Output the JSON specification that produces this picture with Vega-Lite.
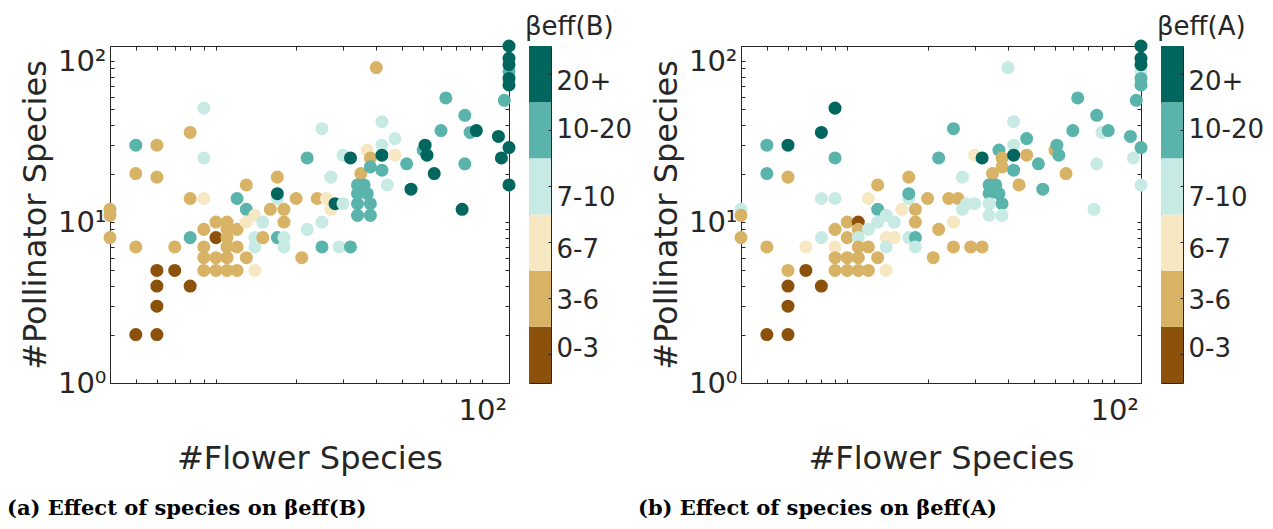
{
  "$schema": "https://vega.github.io/schema/vega-lite/v6.json",
  "background": "white",
  "padding": {"left": 6, "top": 13, "right": 0, "bottom": 0},
  "config": {
    "font": "DejaVu Sans",
    "view": {"stroke": "#262626", "strokeWidth": 1},
    "axis": {
      "grid": false, "domainColor": "#262626", "tickColor": "#262626",
      "labelColor": "#262626", "titleColor": "#262626",
      "labelFont": "DejaVu Sans", "titleFont": "DejaVu Sans",
      "labelFontSize": 29, "titleFontSize": 32, "titleFontWeight": "normal",
      "tickSize": -4, "labelOverlap": false, "labelFlush": false
    },
    "title": {"font": "DejaVu Serif", "fontWeight": "bold", "fontSize": 21, "color": "#000000"}
  },
  "datasets": {
    "pts": [
      {"f":4,"p":12,"b":"3-6","a":"7-10"},
      {"f":4,"p":11,"b":"3-6","a":"3-6"},
      {"f":4,"p":8,"b":"3-6","a":"3-6"},
      {"f":5,"p":30,"b":"10-20","a":"10-20"},
      {"f":6,"p":30,"b":"3-6","a":"20+"},
      {"f":5,"p":20,"b":"3-6","a":"10-20"},
      {"f":6,"p":19,"b":"3-6","a":"3-6"},
      {"f":8,"p":36,"b":"3-6","a":"20+"},
      {"f":9,"p":51,"b":"7-10","a":"20+"},
      {"f":9,"p":25,"b":"7-10","a":"10-20"},
      {"f":8,"p":14,"b":"3-6","a":"7-10"},
      {"f":9,"p":14,"b":"6-7","a":"7-10"},
      {"f":5,"p":7,"b":"3-6","a":"3-6"},
      {"f":7,"p":7,"b":"3-6","a":"6-7"},
      {"f":6,"p":5,"b":"0-3","a":"3-6"},
      {"f":7,"p":5,"b":"0-3","a":"0-3"},
      {"f":6,"p":4,"b":"0-3","a":"0-3"},
      {"f":8,"p":4,"b":"0-3","a":"0-3"},
      {"f":6,"p":3,"b":"0-3","a":"0-3"},
      {"f":5,"p":2,"b":"0-3","a":"0-3"},
      {"f":6,"p":2,"b":"0-3","a":"0-3"},
      {"f":8,"p":8,"b":"10-20","a":"7-10"},
      {"f":10,"p":8,"b":"0-3","a":"3-6"},
      {"f":9,"p":9,"b":"3-6","a":"3-6"},
      {"f":10,"p":10,"b":"3-6","a":"3-6"},
      {"f":11,"p":10,"b":"3-6","a":"0-3"},
      {"f":11,"p":9,"b":"3-6","a":"3-6"},
      {"f":12,"p":9,"b":"3-6","a":"7-10"},
      {"f":11,"p":8,"b":"3-6","a":"7-10"},
      {"f":9,"p":7,"b":"3-6","a":"6-7"},
      {"f":11,"p":7,"b":"3-6","a":"3-6"},
      {"f":12,"p":7,"b":"3-6","a":"3-6"},
      {"f":9,"p":6,"b":"3-6","a":"3-6"},
      {"f":10,"p":6,"b":"3-6","a":"3-6"},
      {"f":11,"p":6,"b":"3-6","a":"3-6"},
      {"f":13,"p":6,"b":"3-6","a":"3-6"},
      {"f":9,"p":5,"b":"3-6","a":"3-6"},
      {"f":10,"p":5,"b":"3-6","a":"3-6"},
      {"f":11,"p":5,"b":"3-6","a":"3-6"},
      {"f":12,"p":5,"b":"3-6","a":"3-6"},
      {"f":14,"p":5,"b":"6-7","a":"6-7"},
      {"f":13,"p":17,"b":"3-6","a":"3-6"},
      {"f":12,"p":14,"b":"10-20","a":"6-7"},
      {"f":13,"p":12,"b":"10-20","a":"10-20"},
      {"f":14,"p":11,"b":"6-7","a":"7-10"},
      {"f":13,"p":10,"b":"6-7","a":"7-10"},
      {"f":15,"p":10,"b":"7-10","a":"7-10"},
      {"f":14,"p":8,"b":"7-10","a":"6-7"},
      {"f":14,"p":7,"b":"7-10","a":"7-10"},
      {"f":15,"p":8,"b":"3-6","a":"6-7"},
      {"f":17,"p":14,"b":"7-10","a":"7-10"},
      {"f":17,"p":15,"b":"20+","a":"10-20"},
      {"f":17,"p":19,"b":"3-6","a":"3-6"},
      {"f":16,"p":12,"b":"3-6","a":"6-7"},
      {"f":18,"p":12,"b":"3-6","a":"3-6"},
      {"f":18,"p":10,"b":"3-6","a":"3-6"},
      {"f":17,"p":8,"b":"10-20","a":"7-10"},
      {"f":18,"p":8,"b":"7-10","a":"10-20"},
      {"f":18,"p":7,"b":"7-10","a":"7-10"},
      {"f":20,"p":14,"b":"3-6","a":"3-6"},
      {"f":21,"p":6,"b":"3-6","a":"3-6"},
      {"f":22,"p":9,"b":"7-10","a":"3-6"},
      {"f":24,"p":14,"b":"3-6","a":"3-6"},
      {"f":26,"p":14,"b":"6-7","a":"3-6"},
      {"f":22,"p":25,"b":"10-20","a":"10-20"},
      {"f":25,"p":38,"b":"7-10","a":"10-20"},
      {"f":27,"p":19,"b":"7-10","a":"7-10"},
      {"f":27,"p":12,"b":"6-7","a":"7-10"},
      {"f":25,"p":10,"b":"7-10","a":"6-7"},
      {"f":25,"p":7,"b":"10-20","a":"3-6"},
      {"f":29,"p":7,"b":"7-10","a":"3-6"},
      {"f":32,"p":7,"b":"10-20","a":"3-6"},
      {"f":28,"p":13,"b":"20+","a":"7-10"},
      {"f":30,"p":13,"b":"7-10","a":"7-10"},
      {"f":30,"p":26,"b":"7-10","a":"6-7"},
      {"f":32,"p":25,"b":"20+","a":"20+"},
      {"f":35,"p":20,"b":"3-6","a":"3-6"},
      {"f":37,"p":28,"b":"6-7","a":"10-20"},
      {"f":38,"p":25,"b":"3-6","a":"3-6"},
      {"f":38,"p":22,"b":"10-20","a":"3-6"},
      {"f":34,"p":17,"b":"10-20","a":"10-20"},
      {"f":36,"p":17,"b":"10-20","a":"10-20"},
      {"f":34,"p":15,"b":"10-20","a":"10-20"},
      {"f":37,"p":15,"b":"10-20","a":"10-20"},
      {"f":34,"p":13,"b":"10-20","a":"7-10"},
      {"f":38,"p":13,"b":"10-20","a":"10-20"},
      {"f":34,"p":11,"b":"10-20","a":"7-10"},
      {"f":38,"p":11,"b":"10-20","a":"7-10"},
      {"f":40,"p":91,"b":"3-6","a":"7-10"},
      {"f":42,"p":42,"b":"7-10","a":"7-10"},
      {"f":42,"p":30,"b":"7-10","a":"7-10"},
      {"f":42,"p":26,"b":"20+","a":"20+"},
      {"f":42,"p":21,"b":"10-20","a":"10-20"},
      {"f":44,"p":17,"b":"7-10","a":"3-6"},
      {"f":47,"p":33,"b":"7-10","a":"10-20"},
      {"f":47,"p":26,"b":"6-7","a":"3-6"},
      {"f":52,"p":23,"b":"10-20","a":"10-20"},
      {"f":54,"p":16,"b":"20+","a":"10-20"},
      {"f":60,"p":28,"b":"10-20","a":"3-6"},
      {"f":61,"p":30,"b":"20+","a":"10-20"},
      {"f":62,"p":26,"b":"20+","a":"10-20"},
      {"f":66,"p":20,"b":"20+","a":"3-6"},
      {"f":70,"p":37,"b":"10-20","a":"10-20"},
      {"f":73,"p":59,"b":"10-20","a":"10-20"},
      {"f":86,"p":46,"b":"10-20","a":"10-20"},
      {"f":90,"p":36,"b":"10-20","a":"7-10"},
      {"f":95,"p":37,"b":"20+","a":"10-20"},
      {"f":86,"p":23,"b":"10-20","a":"7-10"},
      {"f":84,"p":12,"b":"20+","a":"7-10"},
      {"f":115,"p":34,"b":"20+","a":"10-20"},
      {"f":118,"p":25,"b":"20+","a":"7-10"},
      {"f":126,"p":29,"b":"20+","a":"10-20"},
      {"f":126,"p":17,"b":"20+","a":"7-10"},
      {"f":121,"p":57,"b":"10-20","a":"10-20"},
      {"f":126,"p":86,"b":"10-20","a":"7-10"},
      {"f":126,"p":78,"b":"20+","a":"10-20"},
      {"f":126,"p":71,"b":"20+","a":"10-20"},
      {"f":126,"p":95,"b":"20+","a":"20+"},
      {"f":126,"p":104,"b":"20+","a":"20+"},
      {"f":126,"p":124,"b":"20+","a":"20+"}
    ],
    "bins": [
      {"bin":"0-3"},{"bin":"3-6"},{"bin":"6-7"},{"bin":"7-10"},{"bin":"10-20"},{"bin":"20+"}
    ]
  },
  "spacing": 4,
  "hconcat": [
    {
      "title": {"text": "(a) Effect of species on βeff(B)", "orient": "bottom", "anchor": "start", "offset": 23, "dx": -12},
      "spacing": 7,
      "hconcat": [
        {
          "width": 399, "height": 337,
          "data": {"name": "pts"},
          "resolve": {"axis": {"x": "independent", "y": "independent"}},
          "layer": [
            {
              "mark": {"type": "circle", "size": 170, "opacity": 1},
              "encoding": {
                "x": {"field": "f", "type": "quantitative", "title": "#Flower Species",
                  "scale": {"type": "log", "domain": [4, 126], "nice": false},
                  "axis": {"values": [5,6,7,8,9,10,20,30,40,50,60,70,80,90,100], "labelExpr": "datum.value == 100 ? '10²' : ''", "labelPadding": 17, "titlePadding": 18}},
                "y": {"field": "p", "type": "quantitative", "title": "#Pollinator Species",
                  "scale": {"type": "log", "domain": [1, 124], "nice": false},
                  "axis": {"values": [1,2,3,4,5,6,7,8,9,10,20,30,40,50,60,70,80,90,100], "labelExpr": "datum.value == 1 ? '10⁰' : datum.value == 10 ? '10¹' : datum.value == 100 ? '10²' : ''", "labelPadding": 8, "titlePadding": 5}},
                "color": {"field": "b", "type": "ordinal", "legend": null,
                  "scale": {"domain": ["0-3","3-6","6-7","7-10","10-20","20+"], "range": ["#8c510a","#d8b365","#f6e8c3","#c7eae5","#5ab4ac","#01665e"]}}
              }
            },
            {
              "transform": [{"filter": "false"}],
              "mark": {"type": "circle"},
              "encoding": {
                "x": {"field": "f", "type": "quantitative",
                  "axis": {"orient": "top", "values": [5,6,7,8,9,10,20,30,40,50,60,70,80,90,100], "labels": false, "title": null, "domain": false, "minExtent": 0, "maxExtent": 0}},
                "y": {"field": "p", "type": "quantitative",
                  "axis": {"orient": "right", "values": [1,2,3,4,5,6,7,8,9,10,20,30,40,50,60,70,80,90,100], "labels": false, "title": null, "domain": false, "minExtent": 0, "maxExtent": 0}}
              }
            }
          ]
        },
        {
          "width": 22, "height": 337,
          "data": {"name": "bins"},
          "title": {"text": "βeff(B)", "anchor": "start", "font": "DejaVu Sans", "fontWeight": "normal", "fontSize": 26, "color": "#262626", "offset": 6, "dx": -4},
          "mark": {"type": "rect"},
          "encoding": {
            "y": {"field": "bin", "type": "ordinal", "sort": ["20+","10-20","7-10","6-7","3-6","0-3"], "title": null,
              "scale": {"paddingInner": 0, "paddingOuter": 0},
              "axis": {"orient": "right", "domain": false, "labelFontSize": 26, "labelPadding": 8, "tickSize": -3,
                "labelOffset": {"condition": [
                  {"test": "datum.value === '20+'", "value": 8},
                  {"test": "datum.value === '7-10'", "value": 12},
                  {"test": "datum.value === '6-7'", "value": 7},
                  {"test": "datum.value === '3-6'", "value": 2},
                  {"test": "datum.value === '0-3'", "value": -6}
                ], "value": 0}}},
            "fill": {"field": "bin", "type": "ordinal", "legend": null,
              "scale": {"domain": ["0-3","3-6","6-7","7-10","10-20","20+"], "range": ["#8c510a","#d8b365","#f6e8c3","#c7eae5","#5ab4ac","#01665e"]}}
          }
        }
      ]
    },
    {
      "title": {"text": "(b) Effect of species on βeff(A)", "orient": "bottom", "anchor": "start", "offset": 23, "dx": -12},
      "spacing": 7,
      "hconcat": [
        {
          "width": 400, "height": 337,
          "data": {"name": "pts"},
          "resolve": {"axis": {"x": "independent", "y": "independent"}},
          "layer": [
            {
              "mark": {"type": "circle", "size": 170, "opacity": 1},
              "encoding": {
                "x": {"field": "f", "type": "quantitative", "title": "#Flower Species",
                  "scale": {"type": "log", "domain": [4, 126], "nice": false},
                  "axis": {"values": [5,6,7,8,9,10,20,30,40,50,60,70,80,90,100], "labelExpr": "datum.value == 100 ? '10²' : ''", "labelPadding": 17, "titlePadding": 18}},
                "y": {"field": "p", "type": "quantitative", "title": "#Pollinator Species",
                  "scale": {"type": "log", "domain": [1, 124], "nice": false},
                  "axis": {"values": [1,2,3,4,5,6,7,8,9,10,20,30,40,50,60,70,80,90,100], "labelExpr": "datum.value == 1 ? '10⁰' : datum.value == 10 ? '10¹' : datum.value == 100 ? '10²' : ''", "labelPadding": 8, "titlePadding": 5}},
                "color": {"field": "a", "type": "ordinal", "legend": null,
                  "scale": {"domain": ["0-3","3-6","6-7","7-10","10-20","20+"], "range": ["#8c510a","#d8b365","#f6e8c3","#c7eae5","#5ab4ac","#01665e"]}}
              }
            },
            {
              "transform": [{"filter": "false"}],
              "mark": {"type": "circle"},
              "encoding": {
                "x": {"field": "f", "type": "quantitative",
                  "axis": {"orient": "top", "values": [5,6,7,8,9,10,20,30,40,50,60,70,80,90,100], "labels": false, "title": null, "domain": false, "minExtent": 0, "maxExtent": 0}},
                "y": {"field": "p", "type": "quantitative",
                  "axis": {"orient": "right", "values": [1,2,3,4,5,6,7,8,9,10,20,30,40,50,60,70,80,90,100], "labels": false, "title": null, "domain": false, "minExtent": 0, "maxExtent": 0}}
              }
            }
          ]
        },
        {
          "width": 22, "height": 337,
          "data": {"name": "bins"},
          "title": {"text": "βeff(A)", "anchor": "start", "font": "DejaVu Sans", "fontWeight": "normal", "fontSize": 26, "color": "#262626", "offset": 6, "dx": -4},
          "mark": {"type": "rect"},
          "encoding": {
            "y": {"field": "bin", "type": "ordinal", "sort": ["20+","10-20","7-10","6-7","3-6","0-3"], "title": null,
              "scale": {"paddingInner": 0, "paddingOuter": 0},
              "axis": {"orient": "right", "domain": false, "labelFontSize": 26, "labelPadding": 8, "tickSize": -3,
                "labelOffset": {"condition": [
                  {"test": "datum.value === '20+'", "value": 8},
                  {"test": "datum.value === '7-10'", "value": 12},
                  {"test": "datum.value === '6-7'", "value": 7},
                  {"test": "datum.value === '3-6'", "value": 2},
                  {"test": "datum.value === '0-3'", "value": -6}
                ], "value": 0}}},
            "fill": {"field": "bin", "type": "ordinal", "legend": null,
              "scale": {"domain": ["0-3","3-6","6-7","7-10","10-20","20+"], "range": ["#8c510a","#d8b365","#f6e8c3","#c7eae5","#5ab4ac","#01665e"]}}
          }
        }
      ]
    }
  ]
}
